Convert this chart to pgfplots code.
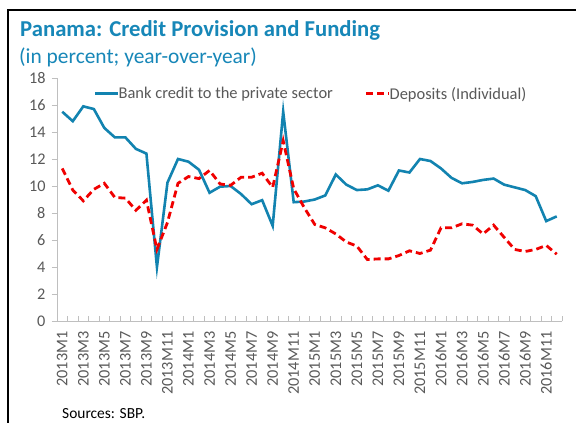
\documentclass[border=0pt]{standalone}
\usepackage{pgfplots}
\pgfplotsset{compat=1.18}
\usepackage{pgfplotstable}
\usepackage{fontspec}
\setmainfont{Carlito}

\definecolor{titleblue}{HTML}{1787B8}
\definecolor{creditblue}{HTML}{1283B0}
\definecolor{depred}{HTML}{F00000}
\definecolor{axisgrey}{HTML}{BFBFBF}
\definecolor{labelgrey}{HTML}{595959}

% month index (0 = 2013M1), credit growth, deposit growth
\pgfplotstableread{
i credit deposits
0 15.5 11.3
1 14.8 9.7
2 15.9 8.9
3 15.7 9.75
4 14.3 10.2
5 13.6 9.15
6 13.6 9.1
7 12.75 8.2
8 12.4 8.95
9 4.0 5.3
10 10.25 7.3
11 12.0 10.2
12 11.8 10.7
13 11.2 10.55
14 9.5 11.15
15 9.95 10.15
16 10.0 10.05
17 9.4 10.65
18 8.65 10.65
19 8.95 10.95
20 7.05 9.9
21 15.5 13.35
22 8.8 9.8
23 8.85 8.4
24 9.0 7.15
25 9.3 6.9
26 10.85 6.45
27 10.1 5.85
28 9.7 5.55
29 9.75 4.55
30 10.05 4.6
31 9.65 4.6
32 11.15 4.85
33 11.0 5.2
34 12.0 5.0
35 11.85 5.25
36 11.3 6.9
37 10.6 6.9
38 10.2 7.2
39 10.3 7.1
40 10.45 6.45
41 10.55 7.1
42 10.1 6.2
43 9.9 5.3
44 9.7 5.15
45 9.25 5.3
46 7.4 5.6
47 7.75 4.95
}\credit

\begin{document}
\begin{tikzpicture}
\useasboundingbox (0,0) rectangle (576bp,423bp);
\fill[white] (0,0) rectangle (576bp,423bp);
\draw[black, line width=2bp] (8bp,0) -- (8bp,413bp) -- (577bp,413bp);

\node[anchor=base west, text=titleblue, font=\fontsize{22.8}{26}\selectfont\bfseries, inner sep=0]
  at (20bp,386bp) {Panama: Credit Provision and Funding};
\node[anchor=base west, text=titleblue, font=\fontsize{21.5}{25}\selectfont, inner sep=0]
  at (19bp,359bp) {(in percent; year-over-year)};
\node[anchor=base west, font=\fontsize{15.5}{18}\selectfont, inner sep=0]
  at (62bp,5bp) {Sources: SBP.};

\begin{axis}[
  at={(57bp,102bp)},
  scale only axis,
  width=505bp, height=243bp,
  xmin=-0.5, xmax=47.5,
  ymin=0, ymax=18,
  axis lines*=left,
  axis line style={axisgrey, line width=0.8bp},
  ytick={0,2,...,18},
  xtick={0,2,...,46},
  xticklabels={2013M1,2013M3,2013M5,2013M7,2013M9,2013M11,
    2014M1,2014M3,2014M5,2014M7,2014M9,2014M11,
    2015M1,2015M3,2015M5,2015M7,2015M9,2015M11,
    2016M1,2016M3,2016M5,2016M7,2016M9,2016M11},
  minor xtick={-0.5,0.5,...,47.5},
  tick align=outside,
  x tick style={draw=none},
  minor x tick style={draw=axisgrey, line width=0.8bp, yshift=5bp},
  minor tick length=5bp,
  y tick style={axisgrey, line width=0.8bp},
  major tick length=5bp,
  /pgf/number format/assume math mode=true,
  tick label style={font=\fontsize{16.3}{18}\selectfont, text=labelgrey},
  x tick label style={rotate=90, anchor=east},
  xticklabel shift=2bp,
  yticklabel shift=3bp,
  legend style={draw=none, fill=none, at={(0.073,0.935)}, anchor=west,
    font=\fontsize{16.5}{18}\selectfont, text=labelgrey,
    /tikz/every even column/.append style={column sep=30bp},
    /tikz/every odd column/.append style={column sep=-3bp},
    inner sep=0pt},
  legend columns=2,
  legend cell align=left,
  legend image code/.code={\draw[#1] (0bp,0bp) -- (23bp,0bp);},
]
\addplot[creditblue, line width=2.6bp] table[x=i, y=credit] {\credit};
\addlegendentry{Bank credit to the private sector}
\addplot[depred, line width=2.8bp, dash pattern=on 7bp off 4bp] table[x=i, y=deposits] {\credit};
\addlegendentry{Deposits (Individual)}
\end{axis}
\end{tikzpicture}
\end{document}
